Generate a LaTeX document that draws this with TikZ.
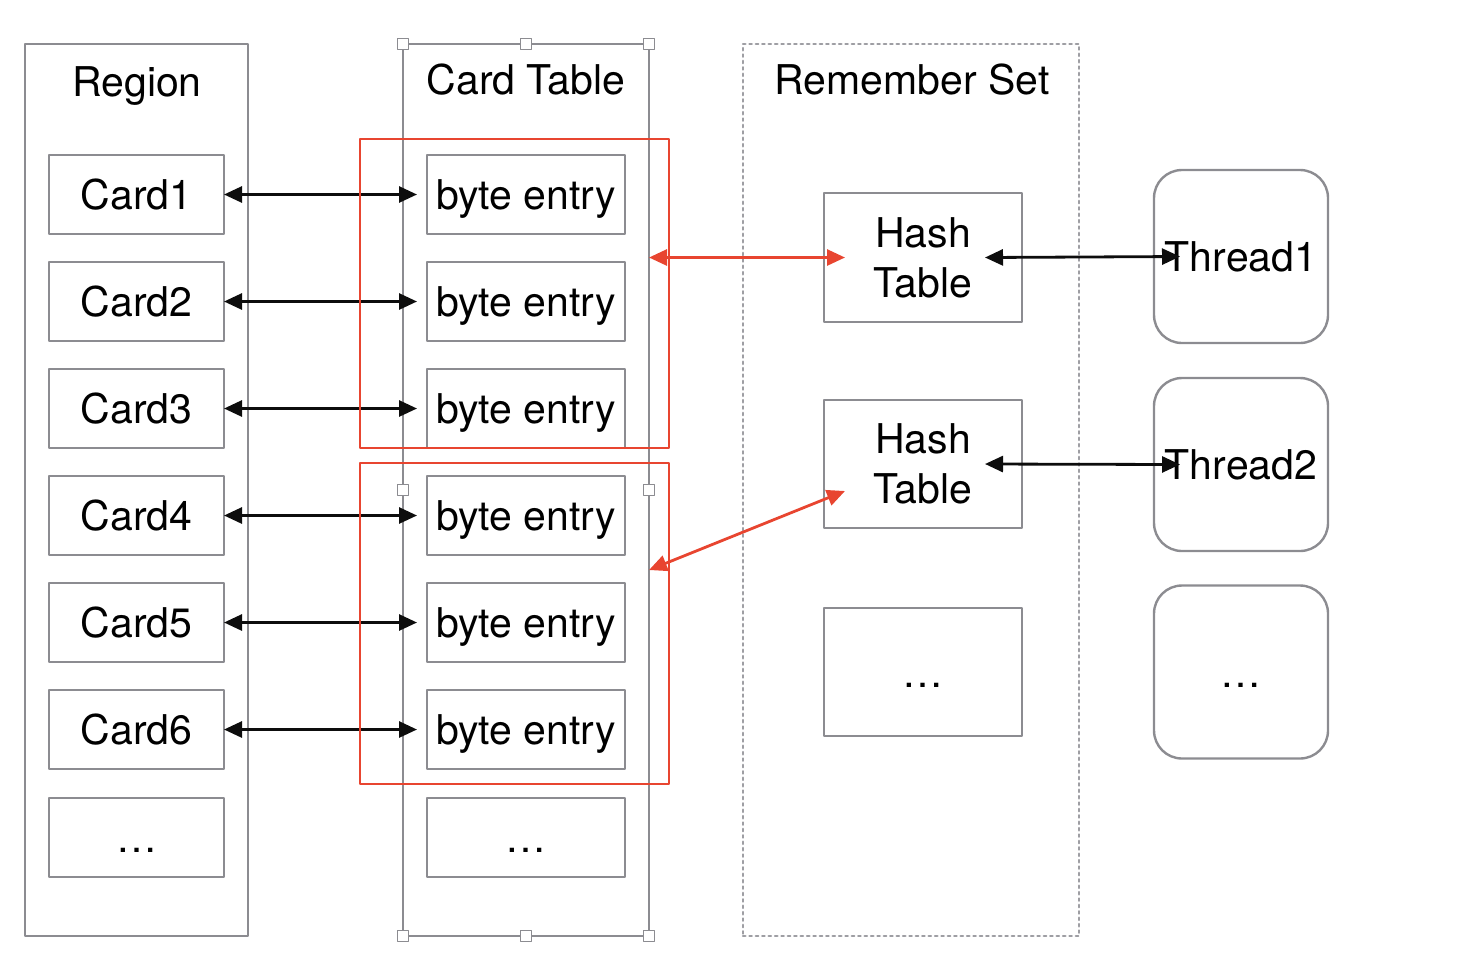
\documentclass[tikz,border=0pt]{standalone}
\usepackage{fontspec}
\setmainfont{TeX Gyre Heros}
\usetikzlibrary{arrows.meta}
\definecolor{ggwwgg}{rgb}{0.55,0.55,0.57}
\definecolor{wwwwww}{rgb}{0.62,0.62,0.64}
\definecolor{ttqqqq}{rgb}{0.91,0.27,0.19}
\definecolor{qqqqqq}{rgb}{0.05,0.05,0.05}

\begin{document}
\begin{tikzpicture}[line cap=round,line join=round,>={Triangle[length=9pt,width=8pt]},x=0.5pt,y=-0.5pt,
  font=\fontsize{20.5}{25}\selectfont,
  box/.style={draw=ggwwgg,line width=1.2pt,inner sep=0pt,outer sep=0pt,text height=15pt,text depth=0pt},
  card/.style={box,minimum width=87.5pt,minimum height=39.5pt},
  entry/.style={box,minimum width=99pt,minimum height=39.5pt},
  column/.style={draw=ggwwgg,line width=1.2pt,inner sep=0pt,outer sep=0pt,minimum height=446pt},
  title/.style={text height=15pt,text depth=0pt},
  handle/.style={draw=ggwwgg,fill=white,line width=0.6pt,inner sep=0pt,minimum size=5.5pt},
  hash/.style={draw=ggwwgg,line width=1.2pt,inner sep=0pt,outer sep=0pt,minimum width=99pt,minimum height=64pt,align=center},
  thread/.style={box,rounded corners=14pt,minimum width=87pt,minimum height=86.5pt},
  link/.style={<->,color=qqqqqq,line width=1.4pt},
  redlink/.style={<->,color=ttqqqq,line width=1.4pt}]
\useasboundingbox (0,0) rectangle (1470,960);

% columns
\node[column,minimum width=111.5pt] (region) at (136.5,490) {};
\node[column,minimum width=123pt] (ctab) at (526,490) {};
\node[column,draw=wwwwww,dotted,minimum width=168pt] (rset) at (911,490) {};
\node[title] (regiont) at (137,81) {Region};
\node[title] (ctabt) at (526,79) {Card Table};
\node[title] (rsett) at (912,79) {Remember Set};

% cards and byte entries
\node[card] (c1) at (136.5,194.5) {Card1};
\node[card] (c2) at (136.5,301.5) {Card2};
\node[card] (c3) at (136.5,408.5) {Card3};
\node[card] (c4) at (136.5,515.5) {Card4};
\node[card] (c5) at (136.5,622.5) {Card5};
\node[card] (c6) at (136.5,729.5) {Card6};
\node[card] (c7) at (136.5,837.5) {…};
\foreach \i/\y in {1/194.5,2/301.5,3/408.5,4/515.5,5/622.5,6/729.5}
  \node[entry] (b\i) at (526,\y) {byte entry};
\node[entry] (b7) at (526,837.5) {…};

% selection handles
\foreach \p in {(403,44),(526,44),(649,44),(403,490),(649,490),(403,936),(526,936),(649,936)}
  \node[handle] at \p {};

% remember set and threads
\node[hash,minimum height=64.5pt] (h1) at (923,257.5) {Hash\\Table};
\node[hash] (h2) at (923,464) {Hash\\Table};
\node[hash,text height=15pt,text depth=0pt] (h3) at (923,672) {…};
\node[thread] (t1) at (1241,256.5) {Thread1};
\node[thread] (t2) at (1241,464.5) {Thread2};
\node[thread] (t3) at (1241,672) {…};

\foreach \i in {1,...,6}
  \draw[link] (c\i.east) -- ([xshift=-5pt]b\i.west);
\draw[link] ([xshift=-18.5pt]h1.east) -- ([xshift=13pt]t1.west);
\draw[link] ([xshift=-18.5pt]h2.east) -- ([xshift=13pt]t2.west);

% dirty card groups
\draw[color=ttqqqq,line width=1.2pt] (360,139) rectangle (669,448);
\draw[color=ttqqqq,line width=1.2pt] (360,463) rectangle (669,784);
\coordinate (r2) at (649,570);
\draw[redlink] (h1.west -| ctab.east) -- ([xshift=10.5pt]h1.west);
\draw[redlink] (r2) -- ([xshift=10.5pt,yshift=-13.5pt]h2.west);

\end{tikzpicture}
\end{document}
